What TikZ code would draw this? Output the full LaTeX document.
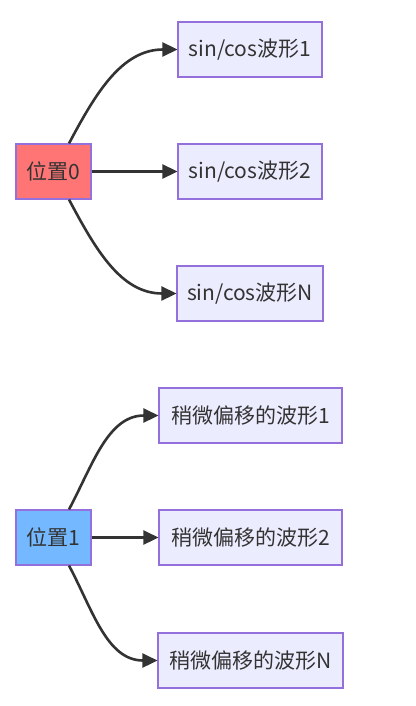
\documentclass[tikz,border=0pt]{standalone}
\usepackage{fontspec}
\newfontfamily\cjk{Noto Sans CJK SC}
\usetikzlibrary{arrows.meta}
\definecolor{boxfill}{HTML}{ECECFF}
\definecolor{boxline}{HTML}{9370DB}
\definecolor{redfill}{HTML}{FF7575}
\definecolor{bluefill}{HTML}{74B9FF}
\definecolor{ink}{HTML}{333333}
\tikzset{
  font=\cjk\fontsize{21}{24}\selectfont,
  % Set arrowhead
  >={Triangle[length=15pt,width=14pt]},
  % General node
  node/.style={draw=boxline, line width=1.1pt, fill=boxfill, shape=rectangle,
    minimum height=55pt, inner sep=0pt, text=ink},
  % Position node
  pnode/.style={node, minimum width=75pt},
  % Wave node
  wnode/.style={node, minimum width=#1},
  % Arrows
  e->/.style={->, draw=ink, line width=2.6pt},
}
\begin{document}
\begin{tikzpicture}[x=1pt, y=-1pt]
    \useasboundingbox (0,0) rectangle (415,706);

    % position 0
    \node[pnode, fill=redfill] (p0) at (53.5,171.5) {位置0};
    \node[wnode=144pt] (s1) at (250,49.5) {sin/cos波形1};
    \node[wnode=144pt] (s2) at (250,171.5) {sin/cos波形2};
    \node[wnode=146pt] (sN) at (250,293.5) {sin/cos波形N};

    \draw[e->] ([xshift=15.5pt]p0.north) to[out=62, in=180] (s1.west);
    \draw[e->] (p0.east) -- (s2.west);
    \draw[e->] ([xshift=15.5pt]p0.south) to[out=-62, in=180] (sN.west);

    % position 1
    \node[pnode, fill=bluefill] (p1) at (53.5,537.5) {位置1};
    \node[wnode=183pt] (w1) at (250.5,415.5) {稍微偏移的波形1};
    \node[wnode=183pt] (w2) at (250.5,537.5) {稍微偏移的波形2};
    \node[wnode=185pt] (wN) at (250.5,660.5) {稍微偏移的波形N};

    \draw[e->] ([xshift=15.5pt]p1.north) to[out=62, in=180] (w1.west);
    \draw[e->] (p1.east) -- (w2.west);
    \draw[e->] ([xshift=15.5pt]p1.south) to[out=-62, in=180] (wN.west);
  \end{tikzpicture}
\end{document}
